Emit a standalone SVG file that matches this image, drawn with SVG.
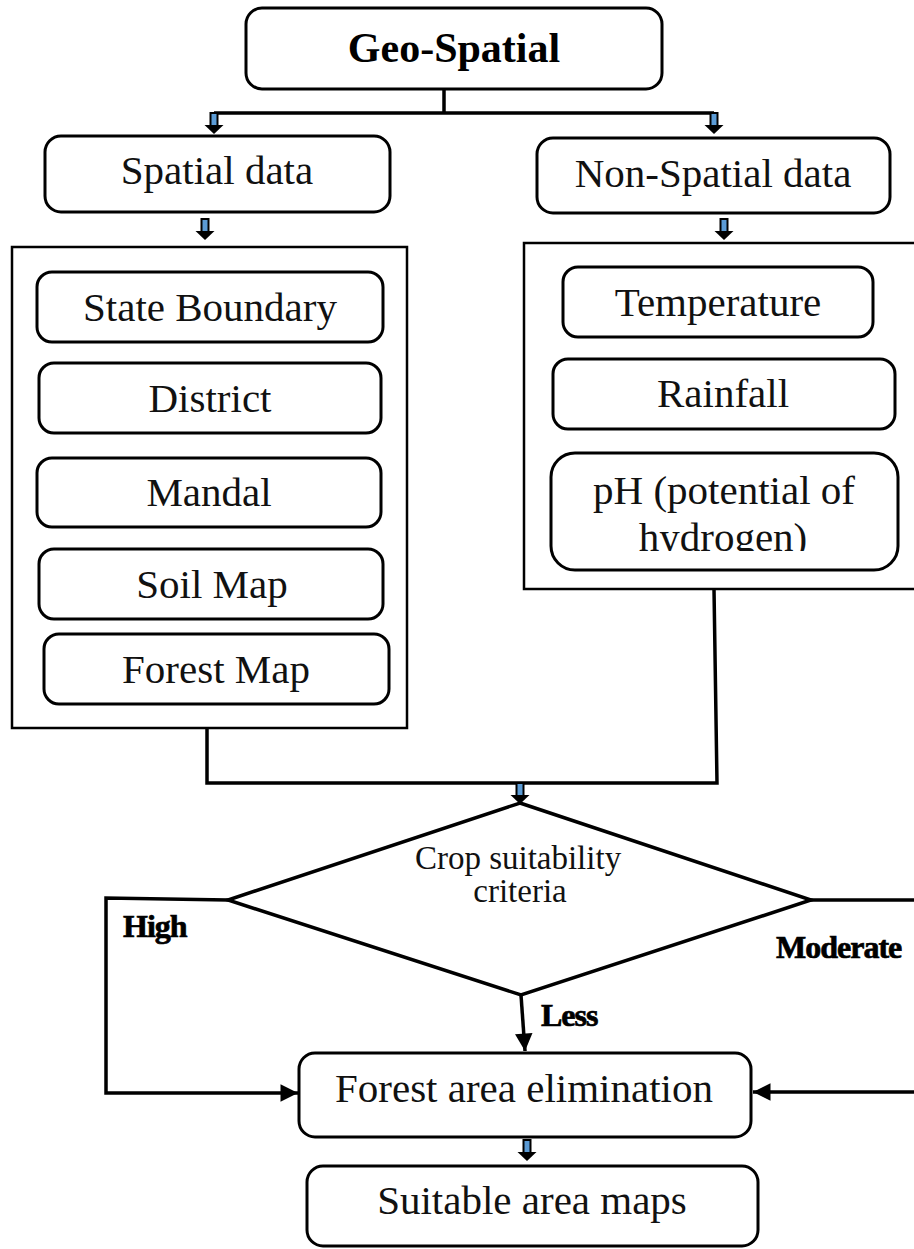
<svg xmlns="http://www.w3.org/2000/svg" width="914" height="1249" viewBox="0 0 914 1249">
<style>
.box{fill:#fff;stroke:#000;stroke-width:3}
.cont{fill:#fff;stroke:#000;stroke-width:2.5}
.t{font-family:"Liberation Serif","Times New Roman",serif;font-size:41px;fill:#111;text-anchor:middle}
.tc{font-family:"Liberation Serif","Times New Roman",serif;font-size:33px;fill:#111;text-anchor:middle}
.tb{font-family:"Liberation Serif","Times New Roman",serif;font-weight:bold;font-size:42px;fill:#000;text-anchor:middle}
.lbl{font-family:"Liberation Serif","Times New Roman",serif;font-weight:bold;font-size:32px;fill:#000;stroke:#000;stroke-width:0.7;letter-spacing:-1px}
.ln{fill:none;stroke:#000;stroke-width:3.5}
</style>
<defs>
<g id="blk">
<rect x="-3.5" y="0" width="7" height="13" fill="#5b9bd5" stroke="#000" stroke-width="2"/>
<polygon points="-9.5,12 9.5,12 0,21" fill="#000"/>
</g>
<marker id="ah" viewBox="0 0 10 10" refX="10" refY="5" markerWidth="5.5" markerHeight="5" markerUnits="strokeWidth" orient="auto">
<path d="M0,0 L10,5 L0,10 Z" fill="#000"/>
</marker>
<clipPath id="phclip"><rect x="540" y="440" width="370" height="111"/></clipPath>
</defs>

<g id="connectors">
<path class="ln" d="M444,89 V113 M214,113 H714"/>
<use href="#blk" x="214" y="113"/>
<use href="#blk" x="714" y="113"/>
<use href="#blk" x="205" y="219"/>
<use href="#blk" x="724" y="219"/>
<path class="ln" d="M207,728 V783 H717 L714,589"/>
<use href="#blk" x="520" y="783"/>
<path class="ln" d="M228,900 L106,898 V1093 H298" marker-end="url(#ah)"/>
<path class="ln" d="M811,900 H925 V1092 H753" marker-end="url(#ah)"/>
<path class="ln" d="M521,995 L525,1051" marker-end="url(#ah)"/>
<use href="#blk" x="527" y="1140"/>
</g>

<g id="geo-spatial">
<rect class="box" x="246" y="8" width="416" height="81" rx="16"/>
<text class="tb" x="454" y="62">Geo-Spatial</text>
</g>

<g id="spatial-data">
<rect class="box" x="45" y="136" width="345" height="76" rx="16"/>
<text class="t" x="217" y="184">Spatial data</text>
</g>

<g id="non-spatial-data">
<rect class="box" x="537" y="138" width="353" height="75" rx="16"/>
<text class="t" x="713" y="187">Non-Spatial data</text>
</g>

<g id="spatial-container">
<rect class="cont" x="12" y="247" width="395" height="481"/>
</g>

<g id="state-boundary">
<rect class="box" x="37" y="272" width="346" height="70" rx="15"/>
<text class="t" x="210" y="321">State Boundary</text>
</g>
<g id="district">
<rect class="box" x="39" y="363" width="342" height="70" rx="15"/>
<text class="t" x="210" y="412">District</text>
</g>
<g id="mandal">
<rect class="box" x="37" y="458" width="344" height="69" rx="15"/>
<text class="t" x="209" y="506">Mandal</text>
</g>
<g id="soil-map">
<rect class="box" x="39" y="549" width="344" height="70" rx="15"/>
<text class="t" x="212" y="598">Soil Map</text>
</g>
<g id="forest-map">
<rect class="box" x="44" y="634" width="345" height="70" rx="15"/>
<text class="t" x="216" y="683">Forest Map</text>
</g>

<g id="non-spatial-container">
<rect class="cont" x="524" y="243" width="410" height="346"/>
</g>

<g id="temperature">
<rect class="box" x="563" y="267" width="310" height="70" rx="15"/>
<text class="t" x="718" y="316">Temperature</text>
</g>
<g id="rainfall">
<rect class="box" x="553" y="359" width="342" height="70" rx="15"/>
<text class="t" x="723" y="407">Rainfall</text>
</g>
<g id="ph">
<rect class="box" x="551" y="453" width="347" height="117" rx="24"/>
<text class="t" x="724" y="504">pH (potential of</text>
<text class="t" x="723" y="551" clip-path="url(#phclip)">hydrogen)</text>
</g>

<g id="crop-suitability">
<polygon points="520,803 811,900 521,995 228,900" fill="#fff" stroke="#000" stroke-width="3.5" stroke-linejoin="miter"/>
<text class="tc" x="518" y="869">Crop suitability</text>
<text class="tc" x="520" y="902">criteria</text>
</g>

<g id="labels">
<text class="lbl" x="123" y="937">High</text>
<text class="lbl" x="776" y="958">Moderate</text>
<text class="lbl" x="541" y="1026">Less</text>
</g>

<g id="forest-area-elimination">
<rect class="box" x="299" y="1053" width="452" height="84" rx="16"/>
<text class="t" x="524" y="1102">Forest area elimination</text>
</g>

<g id="suitable-area-maps">
<rect class="box" x="307" y="1166" width="451" height="80" rx="16"/>
<text class="t" x="532" y="1214">Suitable area maps</text>
</g>
</svg>
